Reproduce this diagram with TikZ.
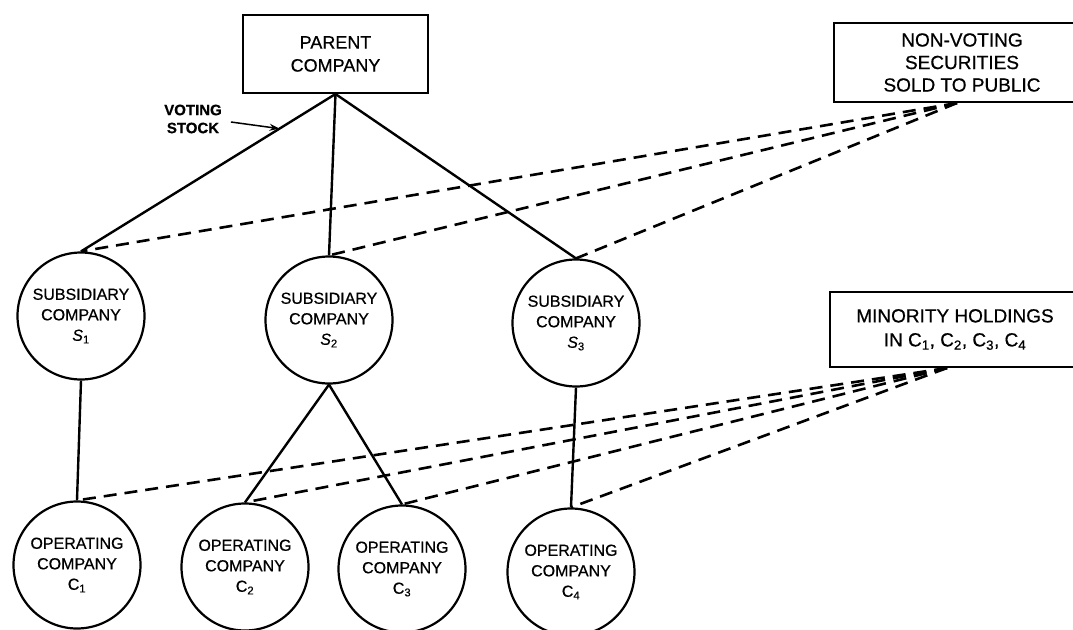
\documentclass[tikz,border=0pt]{standalone}
\usepackage{fontspec}
\setmainfont[FakeBold=0.6]{Liberation Sans}
\usetikzlibrary{arrows.meta}
\begin{document}
\begin{tikzpicture}[x=1pt,y=-1pt,
  solidline/.style={line width=2.4pt},
  dashline/.style={line width=2.6pt, dash pattern=on 13pt off 8pt},
  boxnode/.style={draw, line width=2pt, inner sep=0pt, align=center},
  comp/.style={draw, circle, line width=2.2pt, minimum size=127pt, inner sep=0pt,
    align=center, font=\fontsize{16}{20.5}\selectfont}]
\path[use as bounding box, clip] (0,0) rectangle (1073,629);

% boxes
\node[boxnode, minimum width=185pt, minimum height=78pt,
  font=\fontsize{18}{23}\selectfont] (pc) at (335.5,54) {PARENT\\COMPANY};
\node[boxnode, minimum width=256pt, minimum height=79pt,
  font=\fontsize{19}{22.5}\selectfont] (nv) at (962,62.5) {NON-VOTING\\SECURITIES\\SOLD TO PUBLIC};
\node[boxnode, minimum width=250pt, minimum height=75pt,
  font=\fontsize{19}{24}\selectfont] (mh) at (955,329.5)
  {MINORITY HOLDINGS\\IN C\textsubscript{1}, C\textsubscript{2}, C\textsubscript{3}, C\textsubscript{4}};

% subsidiaries
\node[comp] (s1) at (81,316) {SUBSIDIARY\\COMPANY\\\textit{S}\textsubscript{1}};
\node[comp] (s2) at (329,320) {SUBSIDIARY\\COMPANY\\\textit{S}\textsubscript{2}};
\node[comp] (s3) at (576,323) {SUBSIDIARY\\COMPANY\\\textit{S}\textsubscript{3}};

% operating companies
\node[comp] (c1) at (77,565) {OPERATING\\COMPANY\\C\textsubscript{1}};
\node[comp] (c2) at (245,567) {OPERATING\\COMPANY\\C\textsubscript{2}};
\node[comp] (c3) at (402,569) {OPERATING\\COMPANY\\C\textsubscript{3}};
\node[comp] (c4) at (571,572) {OPERATING\\COMPANY\\C\textsubscript{4}};

% voting stock label
\node[align=center, inner sep=0pt, font=\bfseries\fontsize{15}{18}\selectfont] (vs) at (193,119) {VOTING\\STOCK};

% solid ownership lines
\draw[solidline] (pc.south) -- coordinate[pos=0.22] (vst) (s1.north);
\draw[solidline] (pc.south) -- (s2.north);
\draw[solidline] (pc.south) -- (s3.north);
\draw[solidline] (s1.south) -- (c1.north);
\draw[solidline] (s2.south) -- (c2.north);
\draw[solidline] (s2.south) -- (c3.north);
\draw[solidline] (s3.south) -- (c4.north);

% voting stock arrow
\draw[line width=1.5pt, -{Stealth[length=10pt,width=7pt]}] ([shift={(9,3)}]vs.east) -- (vst);

% non-voting securities
\coordinate (nvp) at ([xshift=-5pt]nv.south);
\draw[dashline] (nvp) -- (s1.north);
\draw[dashline] (nvp) -- (s2.north);
\draw[dashline] (nvp) -- (s3.north);

% minority holdings
\coordinate (mhp) at ([xshift=-8pt]mh.south);
\draw[dashline] (mhp) -- (c1.north);
\draw[dashline] (mhp) -- (c2.north);
\draw[dashline] (mhp) -- (c3.north);
\draw[dashline] (mhp) -- (c4.north);
\end{tikzpicture}
\end{document}
